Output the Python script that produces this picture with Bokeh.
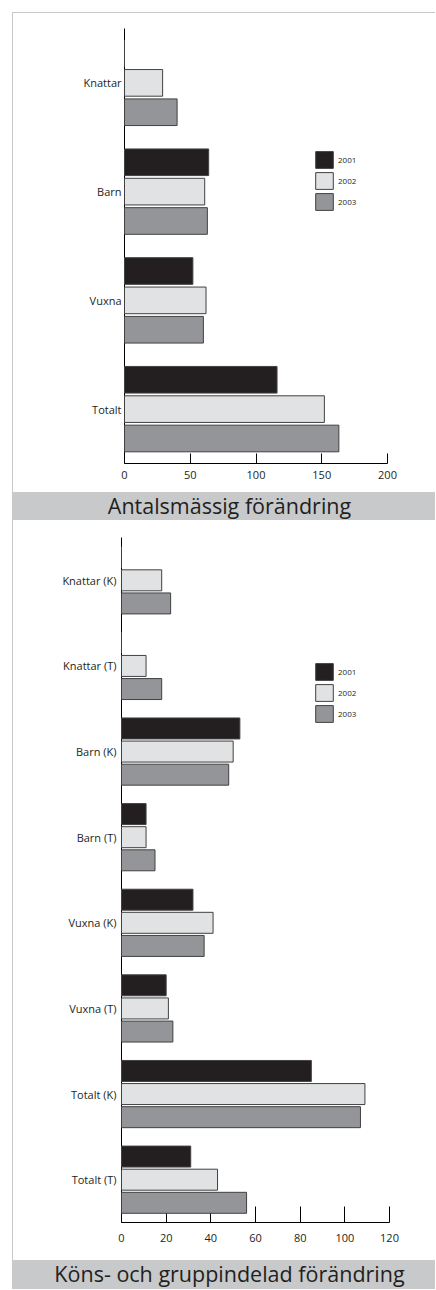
from bokeh.plotting import figure
from bokeh.models import (FactorRange, Range1d, FixedTicker, Legend, LegendItem,
                          ColumnDataSource, Div, Spacer)
from bokeh.transform import dodge
from bokeh.layouts import column, row
from bokeh.core.properties import value
from bokeh.embed import file_html
from bokeh.resources import INLINE

# ---------------- data ----------------
years = ["2001", "2002", "2003"]

cats1 = ["Knattar", "Barn", "Vuxna", "Totalt"]
a_2001 = [0, 64, 52, 116]
a_2002 = [29, 61, 62, 152]
a_2003 = [40, 63, 60, 163]
ticks1 = [0, 50, 100, 150, 200]
title1 = "Antalsmässig förändring"

cats2 = ["Knattar (K)", "Knattar (T)", "Barn (K)", "Barn (T)",
         "Vuxna (K)", "Vuxna (T)", "Totalt (K)", "Totalt (T)"]
b_2001 = [0, 0, 53, 11, 32, 20, 85, 31]
b_2002 = [18, 11, 50, 11, 41, 21, 109, 43]
b_2003 = [22, 18, 48, 15, 37, 23, 107, 56]
ticks2 = [0, 20, 40, 60, 80, 100, 120]
title2 = "Köns- och gruppindelad förändring"

# ---------------- style ----------------
FONT = "Open Sans"
TXT = "#231f20"
FILLS = ["#231f20", "#e1e2e3", "#939598"]
EDGE = "#414042"
BAND = "#c8c9cb"
RULE = "#c8c8c8"
W = 422


def make_chart(cats, v01, v02, v03, ticks, height, left, right, top, bottom,
               tick_in, x_standoff, y_standoff, legend_loc):
    src = ColumnDataSource(dict(cat=cats, y2001=v01, y2002=v02, y2003=v03))
    p = figure(width=W, height=height,
               y_range=FactorRange(factors=list(reversed(cats))),
               x_range=Range1d(ticks[0], ticks[-1]),
               toolbar_location=None, output_backend="svg",
               min_border_left=left, min_border_right=right,
               min_border_top=top, min_border_bottom=bottom)
    p.outline_line_color = None
    p.grid.visible = False
    p.background_fill_color = "white"
    p.border_fill_color = "white"

    rs = []
    for key, col, off in zip(["y2001", "y2002", "y2003"], FILLS, [0.27, 0.0, -0.27]):
        r = p.hbar(y=dodge("cat", off, range=p.y_range), left=0, right=key,
                   height=0.245, fill_color=col, line_color=EDGE, line_width=1,
                   source=src)
        r.level = "overlay"
        rs.append(r)

    xa = p.xaxis[0]
    xa.ticker = FixedTicker(ticks=ticks)
    xa.major_tick_in = tick_in
    xa.major_tick_out = 0
    xa.minor_tick_line_color = None
    xa.axis_line_color = "black"
    xa.major_tick_line_color = "black"
    xa.major_label_standoff = x_standoff
    xa.major_label_text_font = FONT
    xa.major_label_text_font_size = "11px"
    xa.major_label_text_color = TXT

    ya = p.yaxis[0]
    ya.major_tick_in = 0
    ya.major_tick_out = 0
    ya.minor_tick_line_color = None
    ya.axis_line_color = "black"
    ya.major_label_standoff = y_standoff
    ya.major_label_text_font = FONT
    ya.major_label_text_font_size = "11px"
    ya.major_label_text_color = TXT

    legend = Legend(items=[LegendItem(label=value(y), renderers=[r]) for y, r in zip(years, rs)],
                    location=legend_loc, padding=0, margin=0, spacing=0,
                    glyph_width=22, glyph_height=21, label_height=21, label_width=20,
                    label_standoff=3, border_line_color=None, background_fill_alpha=0,
                    label_text_font=FONT, label_text_font_size="8px",
                    label_text_color=TXT, label_text_baseline="middle")
    p.add_layout(legend)
    return p


def make_band(text, height):
    html = ('<div style="box-sizing:border-box;width:%dpx;height:%dpx;overflow:hidden;'
            'padding-left:11px;text-align:center;line-height:28px;white-space:nowrap;'
            'font-family:\'Open Sans\';font-size:21.5px;color:%s;">%s</div>') % (W, height, TXT, text)
    return Div(text=html, width=W, height=height, margin=0,
               styles={"background-color": BAND, "overflow": "hidden"})


H1, HB1, H2, HB2 = 479, 28, 740, 29

fig1 = make_chart(cats1, a_2001, a_2002, a_2003, ticks1, height=H1,
                  left=111, right=48, top=15, bottom=29, tick_in=10,
                  x_standoff=7, y_standoff=3, legend_loc=(189, 251))
band1 = make_band(title1, HB1)
fig2 = make_chart(cats2, b_2001, b_2002, b_2003, ticks2, height=H2,
                  left=108, right=46, top=17, bottom=38, tick_in=16,
                  x_standoff=11, y_standoff=5, legend_loc=(192, 498))
band2 = make_band(title2, HB2)

content = column(row(fig1, spacing=0), band1, row(fig2, spacing=0), band2, spacing=0)
top_rule = Div(text="", width=W + 1, height=1, margin=0,
               styles={"background-color": RULE})
left_rule = Div(text="", width=1, height=H1 + HB1 + H2 + HB2, margin=0,
                styles={"background-color": RULE})

layout = column(
    Spacer(width=12, height=12, margin=0),
    row(Spacer(width=12, height=1, margin=0), top_rule, spacing=0),
    row(Spacer(width=12, height=10, margin=0), left_rule, content, spacing=0),
    spacing=0,
)

open("out.html", "w").write(file_html(layout, INLINE))
